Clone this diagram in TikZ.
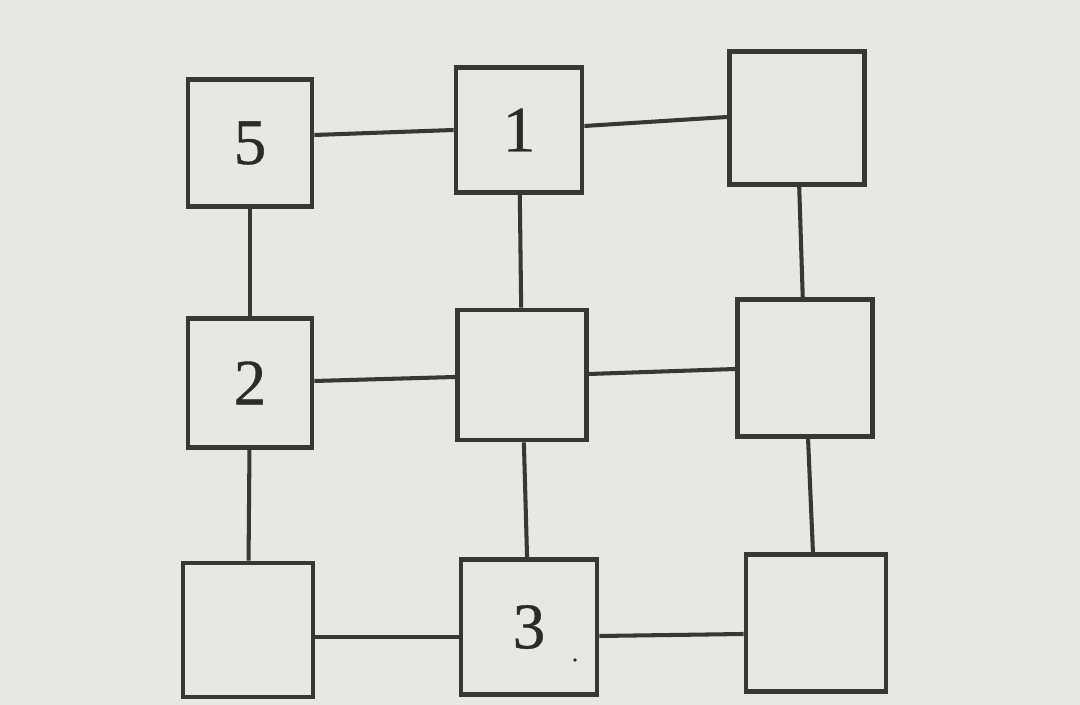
\documentclass[tikz,border=0pt]{standalone}
\usepackage{fontspec}
\setmainfont{Liberation Serif}
\begin{document}
\begin{tikzpicture}[x=1cm,y=1cm,
  sq/.style={draw=ink, line width=1.35pt, fill=paper, inner sep=0pt, font=\fontsize{18.5}{20}\selectfont\addfontfeature{FakeBold=0.6}, text=digit},
  link/.style={draw=ink, line width=1.15pt}]
\definecolor{paper}{HTML}{E7E7E4}
\definecolor{ink}{HTML}{363836}
\definecolor{digit}{HTML}{2A2C2A}
\fill[paper] (0,0) rectangle (10.80,7.05);
\useasboundingbox (0,0) rectangle (10.80,7.05);
\node[sq, minimum width=1.24cm, minimum height=1.27cm] (tl) at (2.50,5.62) {5};
\node[sq, minimum width=1.26cm, minimum height=1.25cm] (tm) at (5.19,5.75) {1};
\node[sq, minimum width=1.35cm, minimum height=1.33cm] (tr) at (7.97,5.87) {};
\node[sq, minimum width=1.24cm, minimum height=1.29cm] (ml) at (2.50,3.22) {2};
\node[sq, minimum width=1.29cm, minimum height=1.30cm] (mm) at (5.22,3.30) {};
\node[sq, minimum width=1.35cm, minimum height=1.37cm] (mr) at (8.05,3.37) {};
\node[sq, minimum width=1.30cm, minimum height=1.34cm] (bl) at (2.48,0.75) {};
\node[sq, minimum width=1.36cm, minimum height=1.35cm] (bm) at (5.29,0.78) {3};
\node[sq, minimum width=1.40cm, minimum height=1.37cm] (br) at (8.16,0.82) {};
\fill[digit] (5.75,0.45) circle (0.018);
\draw[link] ([yshift=0.08cm]tl.east) -- (tm.west);
\draw[link] ([yshift=0.04cm]tm.east) -- ([yshift=0.01cm]tr.west);
\draw[link] ([yshift=0.02cm]ml.east) -- ([yshift=-0.02cm]mm.west);
\draw[link] ([yshift=0.01cm]mm.east) -- ([yshift=-0.01cm]mr.west);
\draw[link] ([yshift=-0.07cm]bl.east) -- ([yshift=-0.10cm]bm.west);
\draw[link] ([yshift=-0.09cm]bm.east) -- ([yshift=-0.11cm]br.west);
\draw[link] (tl) -- (ml);
\draw[link] (ml) -- (bl);
\draw[link] (tm) -- (mm);
\draw[link] (mm) -- (bm);
\draw[link] (tr) -- (mr);
\draw[link] (mr) -- (br);
\end{tikzpicture}
\end{document}
